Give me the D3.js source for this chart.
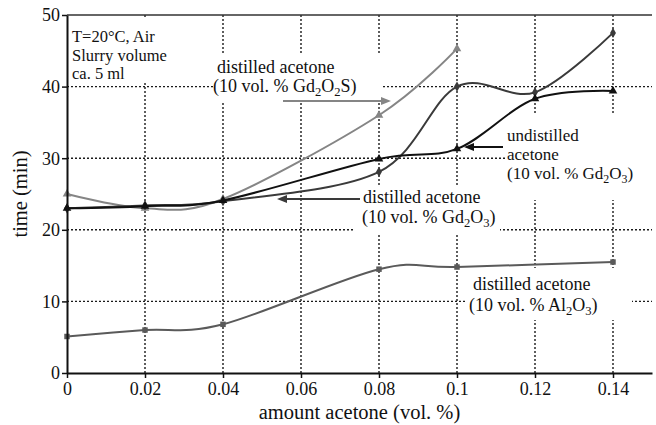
<!DOCTYPE html>
<html><head><meta charset="utf-8">
<script src="https://cdn.jsdelivr.net/npm/d3@7"></script>
<style>html,body{margin:0;padding:0;background:#fff}svg{display:block}text{font-family:"Liberation Serif","Times New Roman",serif;fill:#111}</style>
</head><body><svg id="c" width="656" height="425"></svg>
<script>
const xTicks = [0, 0.02, 0.04, 0.06, 0.08, 0.1, 0.12, 0.14];
const xTickLabels = ["0", "0.02", "0.04", "0.06", "0.08", "0.1", "0.12", "0.14"];
const yTicks = [0, 10, 20, 30, 40, 50];

const xGd2O2S = [0, 0.02, 0.04, 0.08, 0.1];
const yGd2O2S = [25, 23.0, 24.3, 36, 45.3];
const xUndist = [0, 0.02, 0.04, 0.08, 0.1, 0.12, 0.14];
const yUndist = [23, 23.3, 24.1, 29.9, 31.3, 38.3, 39.4];
const xDistGd2O3 = [0, 0.02, 0.04, 0.08, 0.1, 0.12, 0.14];
const yDistGd2O3 = [23, 23.4, 24, 28.1, 40, 39.2, 47.5];
const xAl2O3 = [0, 0.02, 0.04, 0.08, 0.1, 0.14];
const yAl2O3 = [5.1, 6.0, 6.8, 14.5, 14.8, 15.5];

const xTitle = "amount acetone (vol. %)";
const yTitle = "time (min)";
const condLines = ["T=20°C, Air", "Slurry volume", "ca. 5 ml"];

const W = 656, H = 425;
const m = {l: 67, r: 4, t: 15, b: 52};
const svg = d3.select("#c");
const x = d3.scaleLinear().domain([0, 0.15]).range([m.l, W - m.r]);
const y = d3.scaleLinear().domain([0, 50]).range([H - m.b, m.t]);

// grid
const g = svg.append("g");
g.selectAll(".vg").data(xTicks.filter(d => d > 0)).join("line")
  .attr("x1", d => x(d)).attr("x2", d => x(d)).attr("y1", y(50)).attr("y2", y(0))
  .attr("stroke", "#1a1a1a").attr("stroke-width", 1.4).attr("stroke-dasharray", "2,2");
g.selectAll(".hg").data(yTicks.filter(d => d > 0 && d < 50)).join("line")
  .attr("y1", d => y(d)).attr("y2", d => y(d)).attr("x1", x(0)).attr("x2", x(0.15))
  .attr("stroke", "#1a1a1a").attr("stroke-width", 1.4).attr("stroke-dasharray", "2,2");

// white boxes behind labels (cover grid)
const boxes = [
  [x(0) + 2, y(50) + 2, 200, 82],
  [213, 53, 382, 103],
  [505, 113, 652, 200],
  [355, 185, 500, 233],
  [467, 268, 632, 320]
];
svg.append("g").selectAll("rect").data(boxes).join("rect")
  .attr("x", d => d[0]).attr("y", d => d[1]).attr("width", d => d[2] - d[0]).attr("height", d => d[3] - d[1])
  .attr("fill", "#fff");

// top border
svg.append("line").attr("x1", x(0)).attr("x2", x(0.15)).attr("y1", y(50)).attr("y2", y(50))
  .attr("stroke", "#333").attr("stroke-width", 1.5);

// series
const series = [
  {xs: xAl2O3, ys: yAl2O3, color: "#5a5a5a", marker: "square"},
  {xs: xGd2O2S, ys: yGd2O2S, color: "#858585", marker: "triangle"},
  {xs: xDistGd2O3, ys: yDistGd2O3, color: "#3a3a3a", marker: "diamond"},
  {xs: xUndist, ys: yUndist, color: "#111", marker: "triangle"}
];
const line = d3.line().x(d => x(d[0])).y(d => y(d[1])).curve(d3.curveCardinal.tension(0));
const symMap = {square: d3.symbolSquare, triangle: d3.symbolTriangle, diamond: d3.symbolDiamond};
series.forEach(s => {
  const pts = s.xs.map((v, i) => [v, s.ys[i]]);
  svg.append("path").datum(pts).attr("d", line).attr("fill", "none")
    .attr("stroke", s.color).attr("stroke-width", 2);
  svg.append("g").selectAll("path").data(pts).join("path")
    .attr("transform", d => `translate(${x(d[0])},${y(d[1])})`)
    .attr("d", d3.symbol().type(symMap[s.marker]).size(s.marker === "triangle" ? 32 : 30))
    .attr("fill", s.color);
});

// axes
const xAxis = d3.axisBottom(x).tickValues(xTicks).tickFormat((d, i) => xTickLabels[i]).tickSize(5).tickSizeOuter(0);
const yAxis = d3.axisLeft(y).tickValues(yTicks).tickSize(5).tickSizeOuter(0);
const gx = svg.append("g").attr("transform", `translate(0,${y(0)})`).call(xAxis);
const gy = svg.append("g").attr("transform", `translate(${x(0)},0)`).call(yAxis);
[gx, gy].forEach(a => {
  a.select(".domain").attr("stroke", "#111").attr("stroke-width", 2);
  a.selectAll(".tick line").attr("stroke", "#111").attr("stroke-width", 1.5);
  a.selectAll(".tick text").attr("font-family", "Liberation Serif").attr("font-size", 18).attr("fill", "#111");
});
gx.selectAll(".tick text").attr("dy", "0.9em").attr("y", 6);
gy.selectAll(".tick text").attr("x", -7).attr("dy", "0.33em");

svg.append("text").attr("x", (x(0) + x(0.15)) / 2).attr("y", 419).attr("text-anchor", "middle")
  .attr("font-size", 20.5).text(xTitle);
svg.append("text").attr("transform", `translate(27,${(y(0) + y(50)) / 2}) rotate(-90)`)
  .attr("text-anchor", "middle").attr("font-size", 20.5).text(yTitle);

// labels
function rich(xp, yp, parts, fs) {
  fs = fs || 18;
  const t = svg.append("text").attr("x", xp).attr("y", yp).attr("font-size", fs);
  parts.forEach(p => {
    if (p[1] === "sub") t.append("tspan").attr("dy", 4).attr("font-size", fs * 0.7).text(p[0]);
    else t.append("tspan").attr("dy", p[1] === "back" ? -4 : 0).text(p[0]);
  });
}
condLines.forEach((s, i) => svg.append("text").attr("x", 72).attr("y", [42, 60.5, 79][i]).attr("font-size", 16.5).text(s));

rich(217, 73, [["distilled acetone", ""]]);
rich(213, 92, [["(10 vol. % Gd", ""], ["2", "sub"], ["O", "back"], ["2", "sub"], ["S)", "back"]]);

rich(507, 141, [["undistilled", ""]], 17);
rich(507, 160, [["acetone", ""]], 17);
rich(507, 179, [["(10 vol. % Gd", ""], ["2", "sub"], ["O", "back"], ["3", "sub"], [")", "back"]], 17);

rich(363, 203, [["distilled acetone", ""]]);
rich(362, 223, [["(10 vol. % Gd", ""], ["2", "sub"], ["O", "back"], ["3", "sub"], [")", "back"]]);

rich(473, 290, [["distilled acetone", ""]]);
rich(469, 311, [["(10 vol. % Al", ""], ["2", "sub"], ["O", "back"], ["3", "sub"], [")", "back"]]);

// arrows
function arrow(x1, y1, x2, y2, color) {
  svg.append("line").attr("x1", x1).attr("y1", y1).attr("x2", x2 - Math.sign(x2 - x1) * 6).attr("y2", y2)
    .attr("stroke", color).attr("stroke-width", 2);
  const dir = Math.sign(x2 - x1);
  svg.append("path").attr("d", `M${x2},${y2} L${x2 - dir * 10},${y2 - 4} L${x2 - dir * 10},${y2 + 4} Z`).attr("fill", color);
}
arrow(283, 101, 391, 101, "#858585");
arrow(503, 147, 464, 147, "#111");
arrow(360, 199, 277, 199, "#3a3a3a");
</script></body></html>
